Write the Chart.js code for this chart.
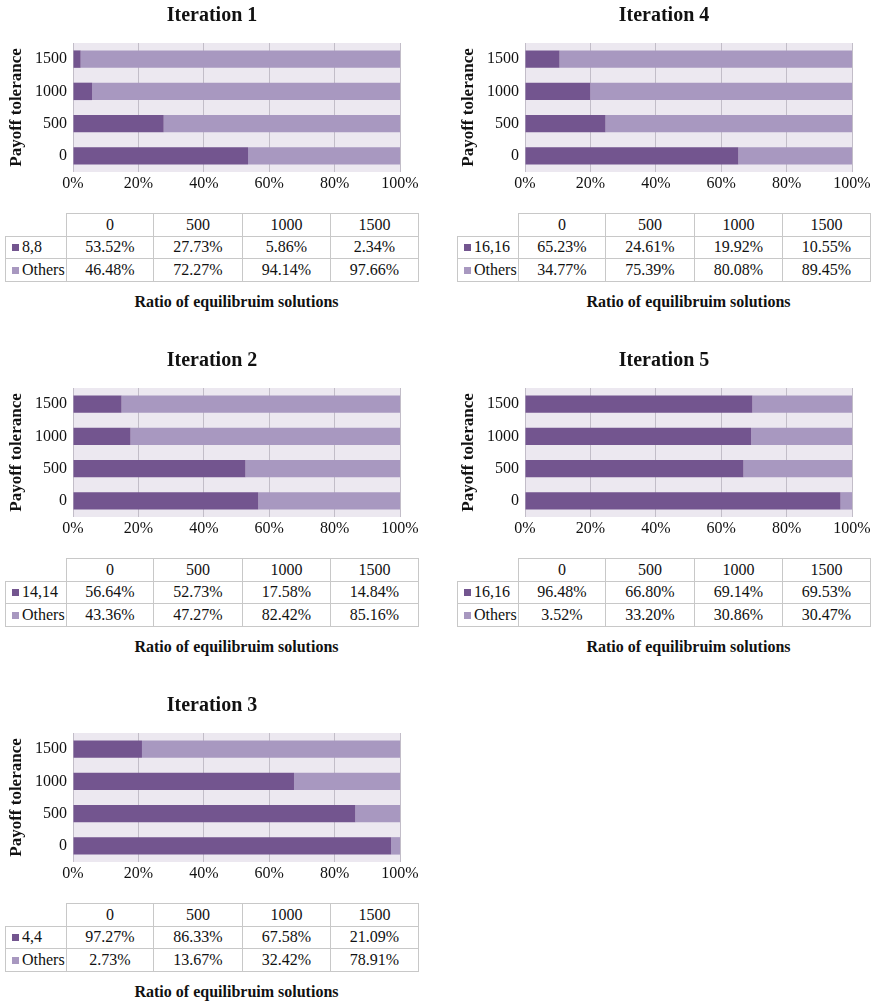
<!DOCTYPE html>
<html>
<head>
<meta charset="utf-8">
<script src="https://cdn.jsdelivr.net/npm/chart.js@4/dist/chart.umd.min.js"></script>
<style>
  html, body { margin: 0; padding: 0; background: #fff; width: 874px; height: 1003px; overflow: hidden; }
  body { position: relative; font-family: "Liberation Serif", "Times New Roman", serif; color: #111; }
  .panel { position: absolute; width: 422px; height: 312px; }
  .panel canvas { position: absolute; left: 0; top: 0; }
  table.data { position: absolute; left: 5px; top: 213px; border-collapse: collapse; table-layout: fixed; font-size: 16px; }
  table.data td { border: 1px solid #c8c8c8; height: 21.5px; padding: 0; text-align: center; line-height: 20px; white-space: nowrap; }
  table.data td.corner { border-top: none; border-left: none; }
  table.data td.name { text-align: left; padding-left: 6px; }
  .swatch { display: inline-block; width: 7px; height: 7px; margin-right: 3px; vertical-align: 1px; }
  .axis-title { position: absolute; left: 73px; width: 327px; top: 292px; text-align: center; font-weight: bold; font-size: 16px; line-height: 20px; }
</style>
</head>
<body>
<script>
// Payoff tolerance categories (also the table columns)
const tolerances = ['0', '500', '1000', '1500'];
const xTicks = [0, 20, 40, 60, 80, 100];

// Share of equilibrium solutions (%) per iteration
const iteration1Main = [53.52, 27.73, 5.86, 2.34];
const iteration1Others = [46.48, 72.27, 94.14, 97.66];
const iteration2Main = [56.64, 52.73, 17.58, 14.84];
const iteration2Others = [43.36, 47.27, 82.42, 85.16];
const iteration3Main = [97.27, 86.33, 67.58, 21.09];
const iteration3Others = [2.73, 13.67, 32.42, 78.91];
const iteration4Main = [65.23, 24.61, 19.92, 10.55];
const iteration4Others = [34.77, 75.39, 80.08, 89.45];
const iteration5Main = [96.48, 66.80, 69.14, 69.53];
const iteration5Others = [3.52, 33.20, 30.86, 30.47];

// Name of the dominant equilibrium in each iteration
const mainNames = ['8,8', '14,14', '4,4', '16,16', '16,16'];
const othersName = 'Others';
const panelTitles = ['Iteration 1', 'Iteration 2', 'Iteration 3', 'Iteration 4', 'Iteration 5'];

const DARK = '#73558f';
const LIGHT = '#a898c0';
const PLOT_BG = '#ece8f0';
const GRID = '#c2bdc8';
const TEXT = '#111111';
const SERIF = '"Liberation Serif", "Times New Roman", serif';

Chart.defaults.font.family = SERIF;
Chart.defaults.color = TEXT;

// Fills the plot area before grid and bars are drawn
const plotFill = {
  id: 'plotFill',
  beforeDraw(chart, args, opts) {
    const { ctx, chartArea: a } = chart;
    ctx.save();
    ctx.fillStyle = opts.color;
    ctx.fillRect(a.left, a.top, a.right - a.left, a.bottom - a.top);
    ctx.restore();
  }
};

// Panel heading centred over the whole panel (plot plus table)
const panelTitle = {
  id: 'panelTitle',
  afterDraw(chart, args, opts) {
    const ctx = chart.ctx;
    ctx.save();
    ctx.font = 'bold 20px ' + SERIF;
    ctx.fillStyle = TEXT;
    ctx.textAlign = 'center';
    ctx.textBaseline = 'middle';
    ctx.fillText(opts.text, opts.x, opts.y);
    ctx.restore();
  }
};

function fmt(v) { return v.toFixed(2) + '%'; }

function makePanel(left, top, title, mainName, mainValues, otherValues) {
  const panel = document.createElement('div');
  panel.className = 'panel';
  panel.style.left = left + 'px';
  panel.style.top = top + 'px';
  document.body.appendChild(panel);

  const canvas = document.createElement('canvas');
  canvas.width = 422;
  canvas.height = 200;
  canvas.style.width = '422px';
  canvas.style.height = '200px';
  panel.appendChild(canvas);

  new Chart(canvas, {
    type: 'bar',
    data: {
      labels: tolerances,
      datasets: [
        { label: mainName, data: mainValues, backgroundColor: DARK, barPercentage: 0.54, categoryPercentage: 1 },
        { label: othersName, data: otherValues, backgroundColor: LIGHT, barPercentage: 0.54, categoryPercentage: 1 }
      ]
    },
    options: {
      indexAxis: 'y',
      responsive: false,
      animation: false,
      devicePixelRatio: 1,
      layout: { padding: { top: 43, right: 22, left: 0, bottom: 0 } },
      plugins: {
        legend: { display: false },
        tooltip: { enabled: false },
        title: { display: false },
        plotFill: { color: PLOT_BG },
        panelTitle: { text: title, x: 212, y: 15.5 }
      },
      scales: {
        x: {
          stacked: true,
          min: 0,
          max: 100,
          afterBuildTicks: s => { s.ticks = xTicks.map(v => ({ value: v })); },
          ticks: { callback: v => v + '%', font: { size: 16 }, color: TEXT, padding: 2, maxRotation: 0 },
          grid: { color: GRID, lineWidth: 1, drawTicks: false },
          border: { display: false },
          afterFit: s => { s.height = 28; }
        },
        y: {
          stacked: true,
          reverse: true,
          grid: { display: false, drawTicks: false },
          border: { display: false },
          ticks: { font: { size: 16 }, color: TEXT, padding: 6 },
          title: {
            display: true,
            text: 'Payoff tolerance',
            font: { size: 17, weight: 'bold' },
            color: TEXT,
            padding: { top: 6, bottom: 0 }
          },
          afterFit: s => { s.width = 73; }
        }
      }
    },
    plugins: [plotFill, panelTitle]
  });

  // Data table below the plot
  const table = document.createElement('table');
  table.className = 'data';
  const widths = [61, 87, 89, 88, 88];
  const colgroup = document.createElement('colgroup');
  widths.forEach(w => {
    const c = document.createElement('col');
    c.style.width = w + 'px';
    colgroup.appendChild(c);
  });
  table.appendChild(colgroup);

  const head = document.createElement('tr');
  const corner = document.createElement('td');
  corner.className = 'corner';
  head.appendChild(corner);
  tolerances.forEach(t => {
    const td = document.createElement('td');
    td.textContent = t;
    head.appendChild(td);
  });
  table.appendChild(head);

  [[mainName, mainValues, DARK], [othersName, otherValues, LIGHT]].forEach(([name, vals, color]) => {
    const tr = document.createElement('tr');
    const nameCell = document.createElement('td');
    nameCell.className = 'name';
    const sw = document.createElement('span');
    sw.className = 'swatch';
    sw.style.background = color;
    nameCell.appendChild(sw);
    nameCell.appendChild(document.createTextNode(name));
    tr.appendChild(nameCell);
    vals.forEach(v => {
      const td = document.createElement('td');
      td.textContent = fmt(v);
      tr.appendChild(td);
    });
    table.appendChild(tr);
  });
  panel.appendChild(table);

  const axisTitle = document.createElement('div');
  axisTitle.className = 'axis-title';
  axisTitle.textContent = 'Ratio of equilibruim solutions';
  panel.appendChild(axisTitle);
}

makePanel(0, 0, panelTitles[0], mainNames[0], iteration1Main, iteration1Others);
makePanel(0, 345, panelTitles[1], mainNames[1], iteration2Main, iteration2Others);
makePanel(0, 690, panelTitles[2], mainNames[2], iteration3Main, iteration3Others);
makePanel(452, 0, panelTitles[3], mainNames[3], iteration4Main, iteration4Others);
makePanel(452, 345, panelTitles[4], mainNames[4], iteration5Main, iteration5Others);
</script>
</body>
</html>
